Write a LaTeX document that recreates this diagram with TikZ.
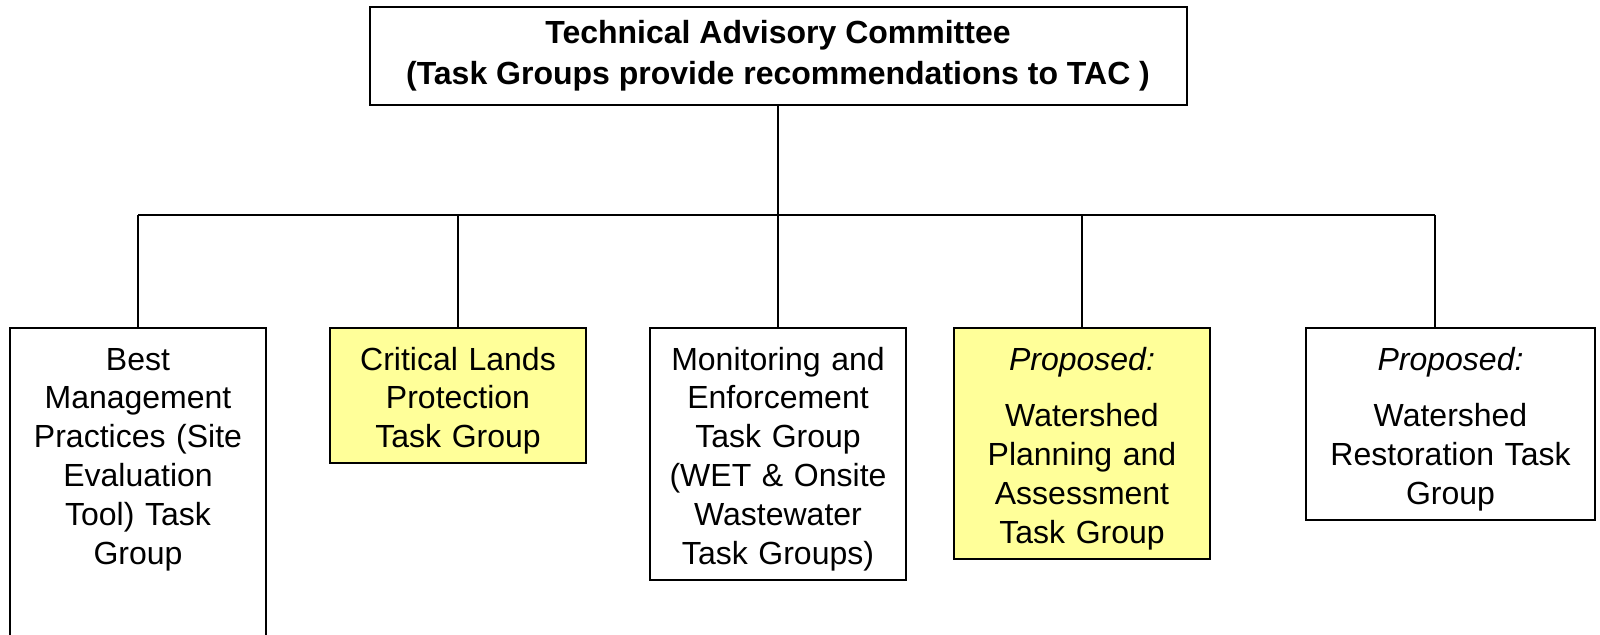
\documentclass[tikz,border=0pt]{standalone}
\usepackage{fontspec}
\setmainfont{Liberation Sans}
\definecolor{tgyellow}{HTML}{FFFF99}

\begin{document}
\begin{tikzpicture}
  [x=0.5pt,y=-0.5pt,line width=1pt,
   comm/.style={draw,align=center,minimum width=408.5pt,minimum height=49pt,
     font=\bfseries\fontsize{16}{20.5}\selectfont},
   tgroup/.style={draw,anchor=north,align=center,inner xsep=4pt,inner ysep=4.5pt,
     text width=120pt,text height=16.5pt,font=\fontsize{16}{19.4}\selectfont}]
  \useasboundingbox (0,0) rectangle (1600,634);

  \node[comm] (tac) at (778,56) {Technical Advisory Committee\\(Task Groups provide recommendations to TAC )};

  \node[tgroup,text depth=140pt] (bmp) at (138,327)  {Best\\Management\\Practices (Site\\Evaluation\\Tool) Task\\Group};
  \node[tgroup,fill=tgyellow] (clp) at (458,327)     {Critical Lands\\Protection\\Task Group};
  \node[tgroup] (met) at (778,327)                   {Monitoring and\\Enforcement\\Task Group\\(WET \& Onsite\\Wastewater\\Task Groups)};
  \node[tgroup,fill=tgyellow] (wpa) at (1082,327)    {\textit{Proposed:}\\[9pt]Watershed\\Planning and\\Assessment\\Task Group};
  \node[tgroup,text width=136.5pt] (wrt) at (1450.5,327) {\textit{Proposed:}\\[9pt]Watershed\\Restoration Task\\Group};

  \coordinate (j1) at (138,215);
  \coordinate (j2) at (458,215);
  \coordinate (j3) at (778,215);
  \coordinate (j4) at (1082,215);
  \coordinate (j5) at (1435,215);

  \draw (tac) -- (j3);
  \draw (j1) -- (j5);
  \foreach \from/\to in {j1/bmp, j2/clp, j3/met, j4/wpa, j5/wrt}
    \draw (\from) -- (\from |- \to.north);
\end{tikzpicture}
\end{document}
